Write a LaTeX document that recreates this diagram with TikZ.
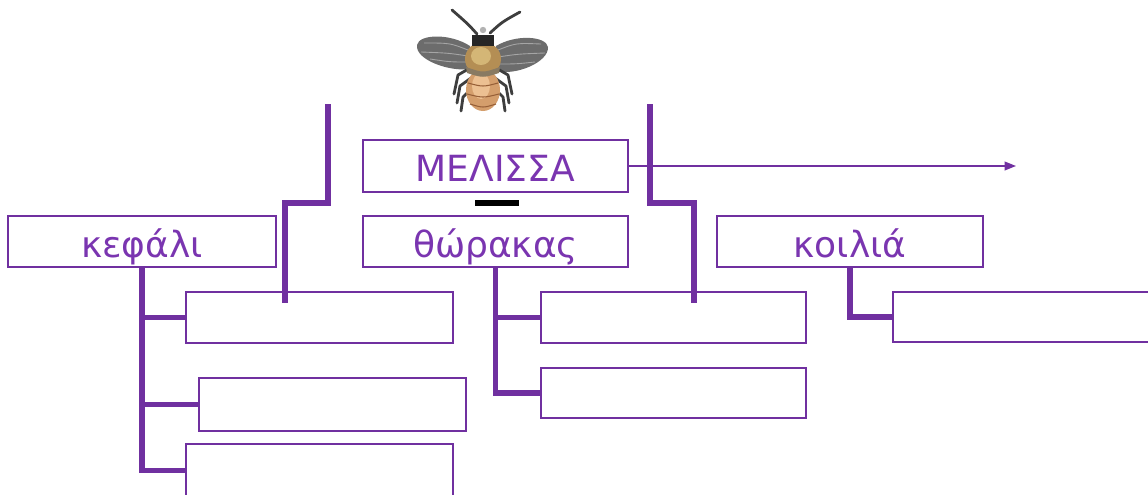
\documentclass[tikz,border=0pt]{standalone}
\usepackage{fontspec}
\setmainfont{DejaVu Sans}
\usetikzlibrary{arrows.meta}
\definecolor{pur}{HTML}{7030A0}
\definecolor{purtext}{HTML}{7A35B0}
\definecolor{wingc}{RGB}{108,108,108}
\definecolor{veinc}{RGB}{165,165,165}
\definecolor{legc}{RGB}{62,62,62}
\definecolor{thorc}{RGB}{180,142,84}
\definecolor{thorhi}{RGB}{212,182,118}
\definecolor{abdc}{RGB}{212,158,108}
\definecolor{abdhi}{RGB}{236,192,146}
\definecolor{stripec}{RGB}{150,95,55}
\begin{document}
\begin{tikzpicture}[x=0.02cm,y=-0.02cm,
  box/.style={draw=pur, line width=1.1pt, rectangle, inner sep=0pt,
    text=purtext, font=\fontsize{20.5}{20.5}\selectfont,
    text height=0.62cm, text depth=0cm, minimum height=1.02cm},
  conn/.style={draw=pur, line width=2.9pt, line join=miter},
  thinarrow/.style={draw=pur, line width=0.9pt, -{Triangle[length=6.5pt,width=5pt]}}
]
\useasboundingbox (0,0) rectangle (1148,494);
\clip (0,0) rectangle (1148,494);

% ---------- bee ----------
\begin{scope}
  % antennae
  \draw[legc, line width=1.6pt, line cap=round] (477,34) .. controls (468,24) .. (452,10);
  \draw[legc, line width=1.6pt, line cap=round] (490,33) .. controls (502,22) .. (520,12);
  % wings
  \fill[wingc] (470,46) .. controls (450,33) and (419,34) .. (417,45)
     .. controls (415,60) and (450,72) .. (470,69) -- cycle;
  \fill[wingc] (496,46) .. controls (516,34) and (546,36) .. (548,47)
     .. controls (549,62) and (516,76) .. (496,71) -- cycle;
  \draw[veinc, line width=0.5pt] (468,50) .. controls (450,43) .. (424,43);
  \draw[veinc, line width=0.5pt] (468,56) .. controls (448,53) .. (421,52);
  \draw[veinc, line width=0.5pt] (468,62) .. controls (450,62) .. (430,59);
  \draw[veinc, line width=0.5pt] (498,50) .. controls (516,43) .. (541,44);
  \draw[veinc, line width=0.5pt] (498,57) .. controls (518,54) .. (545,53);
  \draw[veinc, line width=0.5pt] (498,64) .. controls (516,64) .. (535,62);
  % legs
  \draw[legc, line width=1.6pt, line join=round, line cap=round] (470,68) -- (458,75) -- (454,94);
  \draw[legc, line width=1.6pt, line join=round, line cap=round] (471,78) -- (460,86) -- (457,103);
  \draw[legc, line width=1.6pt, line join=round, line cap=round] (472,88) -- (463,97) -- (461,111);
  \draw[legc, line width=1.6pt, line join=round, line cap=round] (496,68) -- (508,75) -- (512,94);
  \draw[legc, line width=1.6pt, line join=round, line cap=round] (495,78) -- (506,86) -- (509,103);
  \draw[legc, line width=1.6pt, line join=round, line cap=round] (494,88) -- (503,97) -- (505,111);
  % abdomen
  \fill[abdc] (483,90) ellipse [x radius=17, y radius=21];
  \fill[abdhi] (481,86) ellipse [x radius=9, y radius=13];
  \draw[stripec, line width=0.6pt] (468,83) .. controls (483,87) .. (498,83);
  \draw[stripec, line width=0.6pt] (467,94) .. controls (483,98) .. (499,94);
  \draw[stripec, line width=0.6pt] (470,104) .. controls (483,108) .. (496,104);
  % thorax
  \fill[thorc] (483,59) ellipse [x radius=18, y radius=17];
  \fill[thorhi] (481,56) ellipse [x radius=10, y radius=9];
  \fill[wingc!60!thorc] (466,67) .. controls (483,73) .. (500,67) -- (499,73) .. controls (483,78) .. (467,73) -- cycle;
  % head
  \fill[black!85] (472,35) rectangle (494,46);
  \fill[gray!60] (483,30) circle [radius=3.2];
\end{scope}

% ---------- boxes ----------
\node[box, minimum width=5.30cm, minimum height=1.04cm] (mel) at (495.5,166) {ΜΕΛΙΣΣΑ};
\node[box, minimum width=5.30cm] (thor) at (495.5,241.5) {θώρακας};
\node[box, minimum width=5.36cm] (kef) at (142,241.5) {κεφάλι};
\node[box, minimum width=5.32cm] (koi) at (850,241.5) {κοιλιά};

\node[box, minimum width=5.34cm] (k1) at (319.5,317.5) {};
\node[box, minimum width=5.34cm, minimum height=1.06cm] (k2) at (332.5,404.5) {};
\node[box, minimum width=5.34cm, minimum height=1.06cm] (k3) at (319.5,470.5) {};

\node[box, minimum width=5.30cm] (t1) at (673.5,317.5) {};
\node[box, minimum width=5.30cm, minimum height=1.0cm] (t2) at (673.5,393) {};

\node[box, minimum width=5.34cm, minimum height=1.0cm] (c1) at (1026.5,317) {};

% ---------- minus sign ----------
\draw[black, line width=3.4pt] (475,203) -- (519,203);

% ---------- connectors ----------
\draw[conn] (kef.south) |- (k3.west);
\draw[conn] (kef.south |- k1.west) -- (k1.west);
\draw[conn] (kef.south |- k2.west) -- (k2.west);

\draw[conn] (thor.south) |- (t2.west);
\draw[conn] (thor.south |- t1.west) -- (t1.west);

\draw[conn] (koi.south) |- (c1.west);

\coordinate (lt) at (328,104);
\coordinate (lb) at (285,303);
\draw[conn] (lt) -- (lt |- 0,203) -| (lb);

\coordinate (rt) at (650,104);
\coordinate (rb) at (694,303);
\draw[conn] (rt) -- (rt |- 0,203) -| (rb);

\coordinate (arr) at (1016,166);
\draw[thinarrow] (mel.east) -- (arr);
\end{tikzpicture}
\end{document}
